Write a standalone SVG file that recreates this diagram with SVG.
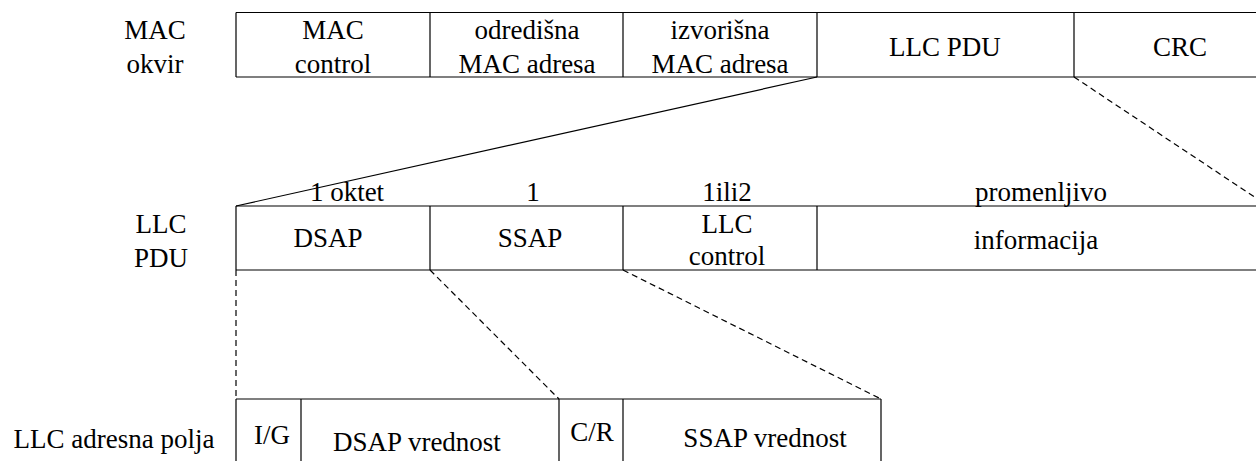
<svg xmlns="http://www.w3.org/2000/svg" width="1256" height="461" viewBox="0 0 1256 461" font-family="'Liberation Serif', 'DejaVu Serif', serif">
<style>
text{font-family:'Liberation Serif','DejaVu Serif',serif;font-size:27px;fill:#000;text-anchor:middle}
.box{fill:none;stroke:#000;stroke-width:1.2}
.solid{fill:none;stroke:#000;stroke-width:1.2}
.dash{fill:none;stroke:#000;stroke-width:1.2;stroke-dasharray:6 4}
</style>
<rect width="1256" height="461" fill="#fff"/>
<g id="labels">
<text x="155" y="39">MAC</text>
<text x="155" y="73">okvir</text>
<text x="161" y="233">LLC</text>
<text x="161" y="267">PDU</text>
<text x="114" y="448">LLC adresna polja</text>
</g>
<g id="mac-frame">
<path class="box" d="M236,12.5H1256M236,77H1256M236,12.5V77M430,12.5V77M623,12.5V77M817,12.5V77M1074,12.5V77"/>
<g id="mac-control"><text x="333" y="39">MAC</text><text x="333" y="73">control</text></g>
<g id="dest-mac"><text x="527" y="39">odredišna</text><text x="527" y="73">MAC adresa</text></g>
<g id="src-mac"><text x="720" y="39">izvorišna</text><text x="720" y="73">MAC adresa</text></g>
<g id="llc-pdu"><text x="945" y="56">LLC PDU</text></g>
<g id="crc"><text x="1180" y="56">CRC</text></g>
</g>
<g id="llc-pdu-row">
<path class="box" d="M236,206H1256M236,270H1256M236,206V270M430,206V270M623,206V270M817,206V270"/>
<text x="347" y="201">1 oktet</text>
<text x="533" y="201">1</text>
<text x="727" y="201">1ili2</text>
<text x="1041" y="201">promenljivo</text>
<g id="dsap"><text x="328" y="247">DSAP</text></g>
<g id="ssap"><text x="530" y="247">SSAP</text></g>
<g id="llc-control"><text x="727" y="233">LLC</text><text x="727" y="265">control</text></g>
<g id="informacija"><text x="1036" y="249">informacija</text></g>
</g>
<g id="address-row">
<path class="box" d="M236,399H881M236,399V461M301,399V461M559,399V461M623,399V461M881,399V461"/>
<g id="ig"><text x="272" y="444">I/G</text></g>
<g id="dsap-val"><text x="417" y="451">DSAP vrednost</text></g>
<g id="cr"><text x="592" y="441">C/R</text></g>
<g id="ssap-val"><text x="765" y="447">SSAP vrednost</text></g>
</g>
<g id="connectors">
<path class="solid" d="M817,77L236,206"/>
<path class="dash" d="M1074,77L1256,198"/>
<path class="dash" d="M236,270V399"/>
<path class="dash" d="M430,270L559,399"/>
<path class="dash" d="M623,270L881,399"/>
</g>
</svg>
